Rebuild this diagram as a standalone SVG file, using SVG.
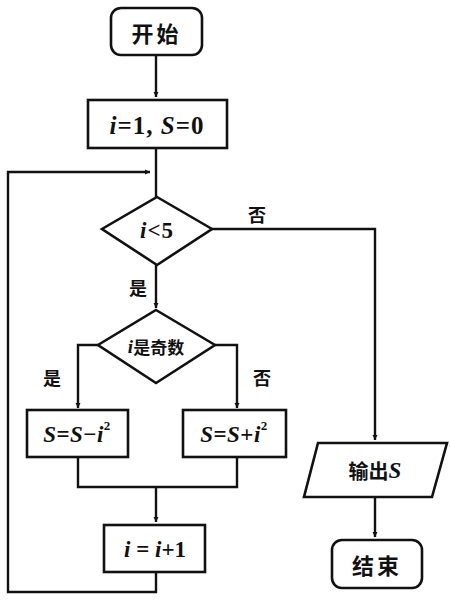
<svg xmlns="http://www.w3.org/2000/svg" width="450" height="600" viewBox="0 0 450 600">
<style>
.s{fill:#fff;stroke:#111;stroke-width:2.6}
.c{fill:none;stroke:#111;stroke-width:2.4}
.cn{font-family:"Noto Sans CJK SC","Noto Sans",sans-serif;font-weight:bold;fill:#111}
.m{font-family:"Liberation Serif",serif;font-style:italic;font-weight:bold;fill:#111}
.n{font-family:"Liberation Serif",serif;font-weight:bold;fill:#111}
text{text-anchor:middle;dominant-baseline:central}
</style>
<defs>
<marker id="a" viewBox="0 0 10 10" refX="10" refY="5" markerWidth="5" markerHeight="6" orient="auto" markerUnits="userSpaceOnUse">
<path d="M0,0 L10,5 L0,10 z" fill="#111"/>
</marker>
</defs>
<g id="connectors">
<path class="c" d="M156,55 V97" marker-end="url(#a)"/>
<path class="c" d="M156,148 V197"/>
<path class="c" d="M156,572 V592 H8 V172 H150" marker-end="url(#a)"/>
<path class="c" d="M156,265 V308" marker-end="url(#a)"/>
<path class="c" d="M212,229 H375 V440" marker-end="url(#a)"/>
<path class="c" d="M98,345 H78 V408" marker-end="url(#a)"/>
<path class="c" d="M215,345 H237 V408" marker-end="url(#a)"/>
<path class="c" d="M78,457 V487 H237 V457"/>
<path class="c" d="M156,487 V522" marker-end="url(#a)"/>
<path class="c" d="M375,497 V537" marker-end="url(#a)"/>
<text class="cn" x="257" y="214" font-size="18">否</text>
<text class="cn" x="138" y="287" font-size="18">是</text>
<text class="cn" x="52" y="377" font-size="18">是</text>
<text class="cn" x="262" y="377" font-size="18">否</text>
</g>
<g id="start">
<rect class="s" x="111" y="8" width="91" height="47" rx="10"/>
<text class="cn" x="156.5" y="32" font-size="22" letter-spacing="3">开始</text>
</g>
<g id="init">
<rect class="s" x="88" y="100" width="139" height="48"/>
<text x="157" y="125" font-size="25" letter-spacing="1"><tspan class="m">i</tspan><tspan class="n">=1, </tspan><tspan class="m">S</tspan><tspan class="n">=0</tspan></text>
</g>
<g id="cond1">
<polygon class="s" points="157,197 212,229 157,265 102,229"/>
<text x="157" y="230" font-size="23" letter-spacing="1"><tspan class="m">i</tspan><tspan class="n">&lt;5</tspan></text>
</g>
<g id="cond2">
<polygon class="s" points="156,310 215,345 156,383 98,345"/>
<text x="156" y="346" font-size="17"><tspan class="m" font-size="19">i</tspan><tspan class="cn">是奇数</tspan></text>
</g>
<g id="sub">
<rect class="s" x="27" y="410" width="101" height="47"/>
<text x="77" y="434" font-size="23" letter-spacing="0.5"><tspan class="m">S</tspan><tspan class="n">=</tspan><tspan class="m">S</tspan><tspan class="n">−</tspan><tspan class="m">i</tspan><tspan class="n" font-size="13" dy="-9">2</tspan></text>
</g>
<g id="add">
<rect class="s" x="183" y="410" width="103" height="47"/>
<text x="234" y="434" font-size="23" letter-spacing="0.5"><tspan class="m">S</tspan><tspan class="n">=</tspan><tspan class="m">S</tspan><tspan class="n">+</tspan><tspan class="m">i</tspan><tspan class="n" font-size="13" dy="-9">2</tspan></text>
</g>
<g id="inc">
<rect class="s" x="104" y="525" width="101" height="47"/>
<text x="155" y="549" font-size="23"><tspan class="m">i</tspan><tspan class="n"> = </tspan><tspan class="m">i</tspan><tspan class="n">+1</tspan></text>
</g>
<g id="output">
<polygon class="s" points="318,443 447,443 432,497 304,497"/>
<text x="375" y="470" font-size="20"><tspan class="cn">输出</tspan><tspan class="m" font-size="23">S</tspan></text>
</g>
<g id="end">
<rect class="s" x="332" y="540" width="90" height="48" rx="10"/>
<text class="cn" x="377" y="564" font-size="22" letter-spacing="3">结束</text>
</g>
</svg>
